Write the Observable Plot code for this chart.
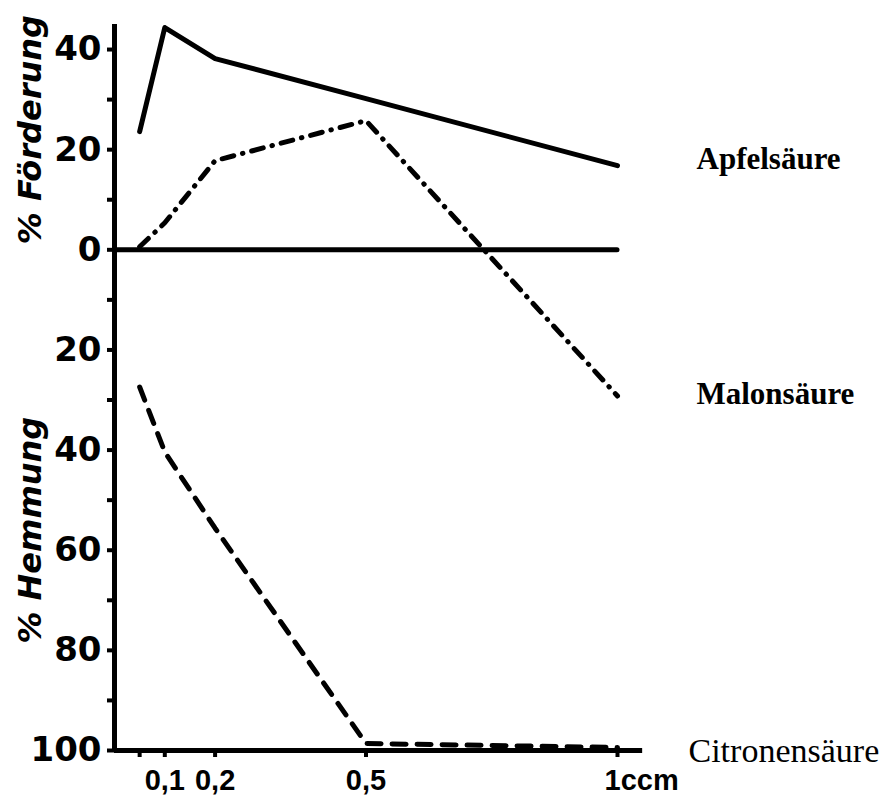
<!DOCTYPE html>
<html>
<head>
<meta charset="utf-8">
<script src="https://cdn.jsdelivr.net/npm/d3@7"></script>
<script src="https://cdn.jsdelivr.net/npm/@observablehq/plot@0.6"></script>
<style>
  html, body { margin: 0; padding: 0; background: #fff; }
  #chart { width: 888px; height: 800px; }
</style>
</head>
<body>
<div id="chart"></div>
<script>
// concentration (ccm)
const xValues = [0.05, 0.1, 0.2, 0.5, 1];
// % Förderung (positive) / % Hemmung (negative)
const apfelsaeure    = [23.6, 44.4, 38.2, 30.2, 16.8];
const malonsaeure    = [0.6, 5.4, 17.8, 25.8, -29.2];
const citronensaeure = [-27.4, -40.4, -55.6, -98.6, -99.4];
const seriesNames = ["Apfelsäure", "Malonsäure", "Citronensäure"];

const yTicks = [40, 30, 20, 10, 0, -10, -20, -30, -40, -50, -60, -70, -80, -90, -100];
const yTickLabels = ["40", "", "20", "", "0", "", "20", "", "40", "", "60", "", "80", "", "100"];
const xTicks = [0.05, 0.1, 0.2, 0.5, 1];
const xTickLabels = ["", "0,1", "0,2", "0,5", "1ccm"];
const yTitleTop = "% Förderung";
const yTitleBottom = "% Hemmung";

const allSeries = [apfelsaeure, malonsaeure, citronensaeure];
const styles = [
  {dash: null, font: "Liberation Serif", weight: "bold", size: 31, dy: -7, dx: 79},
  {dash: "12,9,0.5,9", font: "Liberation Serif", weight: "bold", size: 31, dy: -2, dx: 79},
  {dash: "14,11", font: "Liberation Serif", weight: "normal", size: 34, dy: 4, dx: 71}
];

const handFont = "DejaVu Sans";

const lineMarks = [];
allSeries.forEach((vals, i) => {
  const rows = xValues.map((x, j) => ({x, y: vals[j], name: seriesNames[i]}));
  const s = styles[i];
  lineMarks.push(Plot.line(rows, {
    x: "x", y: "y", stroke: "black", strokeWidth: 5,
    strokeLinecap: "round", strokeLinejoin: "round",
    strokeDasharray: s.dash
  }));
  lineMarks.push(Plot.text([rows[rows.length - 1]], {
    x: "x", y: "y", text: "name", textAnchor: "start", dx: s.dx, dy: s.dy,
    fontFamily: s.font, fontWeight: s.weight, fontSize: s.size, fill: "black"
  }));
});

const xLabelRows = xTicks.map((x, i) => ({x, label: xTickLabels[i]})).filter(d => d.label !== "");
const xLabelsMid = xLabelRows.slice(0, -1);
const xLabelLast = xLabelRows.slice(-1);

const plot = Plot.plot({
  width: 888,
  height: 800,
  marginLeft: 114,
  marginRight: 271,
  marginTop: 24,
  marginBottom: 50,
  x: {domain: [0, 1], axis: null},
  y: {domain: [-100, 45], axis: null},
  style: {background: "white", color: "black", overflow: "visible"},
  marks: [
    Plot.axisY({
      ticks: yTicks, anchor: "left", tickSize: 7, tickPadding: 6,
      strokeWidth: 4,
      tickFormat: d => yTickLabels[yTicks.indexOf(d)],
      fontSize: 34, fontWeight: "bold", fontFamily: handFont, label: null
    }),
    Plot.axisX({
      ticks: xTicks, anchor: "bottom", tickSize: 7, strokeWidth: 4,
      tickFormat: () => "", label: null
    }),
    Plot.text(xLabelsMid, {
      x: "x", y: () => -100, text: "label", dy: 30, textAnchor: "middle",
      fontSize: 29, fontWeight: "bold", fontFamily: "Liberation Sans",
      letterSpacing: "-1px"
    }),
    Plot.text(xLabelLast, {
      x: "x", y: () => -100, text: "label", dy: 30, dx: -13, textAnchor: "start",
      fontSize: 29, fontWeight: "bold", fontFamily: "Liberation Sans",
      letterSpacing: "-1px"
    }),
    Plot.ruleX([0], {y1: -100, y2: 45, stroke: "black", strokeWidth: 5}),
    Plot.ruleY([-100], {x1: 0, x2: 1.05, stroke: "black", strokeWidth: 5}),
    Plot.ruleY([0], {x1: 0, x2: 1, stroke: "black", strokeWidth: 5, strokeLinecap: "round"}),
    Plot.text([yTitleTop], {
      frameAnchor: "left", y: () => 24, dx: -84, text: d => d, rotate: -90,
      textAnchor: "middle",
      fontSize: 32, fontWeight: "bold", fontStyle: "italic", fontFamily: handFont
    }),
    Plot.text([yTitleBottom], {
      frameAnchor: "left", y: () => -56, dx: -84, text: d => d, rotate: -90,
      textAnchor: "middle",
      fontSize: 32, fontWeight: "bold", fontStyle: "italic", fontFamily: handFont
    }),
    ...lineMarks
  ]
});
document.getElementById("chart").appendChild(plot);
</script>
</body>
</html>
